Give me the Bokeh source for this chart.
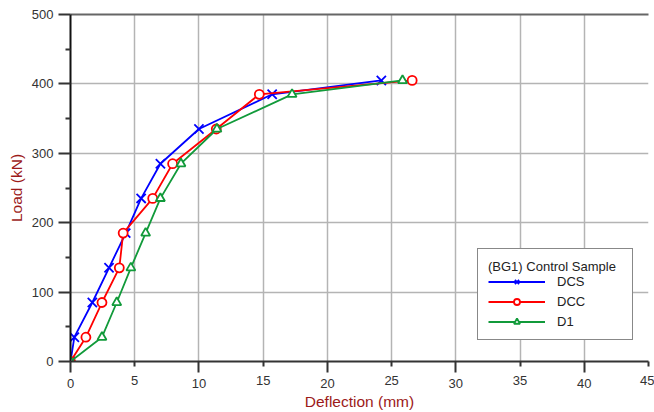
from bokeh.plotting import figure
from bokeh.models import Range1d, FixedTicker, LinearAxis, Legend
from bokeh.embed import file_html
from bokeh.resources import INLINE

# ---- data ----
dcs_x = [0, 0.3, 1.7, 3.0, 4.3, 5.5, 7.0, 10.0, 15.7, 24.2]
dcs_y = [0, 35, 85, 135, 185, 235, 285, 335, 385, 405]
dcc_x = [0, 1.2, 2.45, 3.8, 4.1, 6.4, 7.95, 11.35, 14.7, 26.6]
dcc_y = [0, 35, 85, 135, 185, 235, 285, 335, 385, 405]
d1_x = [0, 2.45, 3.6, 4.7, 5.85, 7.0, 8.6, 11.4, 17.25, 25.85]
d1_y = [0, 35, 85, 135, 185, 235, 285, 335, 385, 405]

x_even = [0, 10, 20, 30, 40]
x_odd = [5, 15, 25, 35, 45]
y_major = [0, 100, 200, 300, 400, 500]
y_minor = [50, 150, 250, 350, 450]

FONT = "Liberation Sans"
RED_TITLE = "#9c1a1a"
GRID = "#b4b4b4"
TXT = "#333333"

p = figure(width=654, height=412, output_backend="svg", toolbar_location=None,
           x_range=Range1d(0, 45), y_range=Range1d(0, 500), x_axis_location=None,
           min_border_left=70, min_border_right=6, min_border_top=14, min_border_bottom=10)
p.background_fill_color = "white"
p.border_fill_color = "white"
p.outline_line_color = None

# x axis A: axis line, short ticks + labels at odd positions, long ticks at even positions
xa = LinearAxis(ticker=FixedTicker(ticks=x_odd, minor_ticks=x_even))
xa.axis_line_color = TXT
xa.axis_line_width = 2
xa.major_tick_out = 5
xa.major_tick_in = 0
xa.minor_tick_out = 11
xa.minor_tick_in = 0
xa.major_tick_line_color = TXT
xa.major_tick_line_width = 2
xa.minor_tick_line_color = TXT
xa.minor_tick_line_width = 2
xa.major_label_standoff = 3
xa.major_label_text_font = FONT
xa.major_label_text_font_size = "13px"
xa.major_label_text_color = TXT
p.add_layout(xa, "below")

# x axis B: staggered labels at even positions + axis title
xb = LinearAxis(ticker=FixedTicker(ticks=x_even))
xb.axis_line_color = None
xb.major_tick_line_color = None
xb.minor_tick_line_color = None
xb.major_tick_out = 0
xb.major_tick_in = 0
xb.major_label_standoff = -9
xb.major_label_text_font = FONT
xb.major_label_text_font_size = "13px"
xb.major_label_text_color = TXT
xb.axis_label = "Deflection (mm)"
xb.axis_label_text_font = FONT
xb.axis_label_text_font_size = "15.5px"
xb.axis_label_text_font_style = "normal"
xb.axis_label_text_color = RED_TITLE
xb.axis_label_standoff = 2
p.add_layout(xb, "below")

ya = p.yaxis[0]
ya.ticker = FixedTicker(ticks=y_major, minor_ticks=y_minor)
ya.axis_line_color = "#111111"
ya.axis_line_width = 2
ya.major_tick_out = 12
ya.major_tick_in = 0
ya.minor_tick_out = 5
ya.minor_tick_in = 0
ya.major_tick_line_color = TXT
ya.major_tick_line_width = 2
ya.minor_tick_line_color = TXT
ya.minor_tick_line_width = 2
ya.major_label_standoff = 5
ya.major_label_text_font = FONT
ya.major_label_text_font_size = "13px"
ya.major_label_text_color = TXT
ya.axis_label = "Load (kN)"
ya.axis_label_text_font = FONT
ya.axis_label_text_font_size = "15.5px"
ya.axis_label_text_font_style = "normal"
ya.axis_label_text_color = RED_TITLE
ya.axis_label_standoff = 4

top = LinearAxis(ticker=FixedTicker(ticks=[]), axis_line_color="#666666", axis_line_width=2,
                 major_tick_line_color=None, minor_tick_line_color=None)
p.add_layout(top, "above")

# grid
p.xgrid.ticker = FixedTicker(ticks=x_even + x_odd)
p.xgrid.grid_line_color = GRID
p.xgrid.grid_line_width = 1.5
p.ygrid.ticker = FixedTicker(ticks=y_major)
p.ygrid.grid_line_color = GRID
p.ygrid.grid_line_width = 1.5

series = [
    ("DCS", dcs_x, dcs_y, "#0000ff", "x", 13),
    ("DCC", dcc_x, dcc_y, "#ff0000", "circle", 9),
    ("D1", d1_x, d1_y, "#119a3a", "triangle", 9),
]
items = []
for name, xs, ys, col, mk, sz in series:
    r1 = p.line(xs, ys, line_color=col, line_width=1.8)
    r2 = p.scatter(xs, ys, marker=mk, size=sz, line_color=col, line_width=1.8, fill_color="white")
    items.append((name, [r1, r2]))

legend = Legend(items=items, location=(407, 21))
legend.title = "(BG1) Control Sample"
legend.title_text_font = FONT
legend.title_text_font_size = "13px"
legend.title_text_font_style = "normal"
legend.title_text_color = "#222222"
legend.title_standoff = 0
legend.label_text_font = FONT
legend.label_text_font_size = "13px"
legend.label_text_color = "#222222"
legend.glyph_width = 57
legend.glyph_height = 15
legend.label_height = 15
legend.label_width = 65
legend.label_standoff = 12
legend.spacing = 5
legend.padding = 10
legend.margin = 0
legend.border_line_color = "#111111"
legend.border_line_width = 1
legend.background_fill_alpha = 1
p.add_layout(legend, "center")

open("out.html", "w").write(file_html(p, INLINE))
